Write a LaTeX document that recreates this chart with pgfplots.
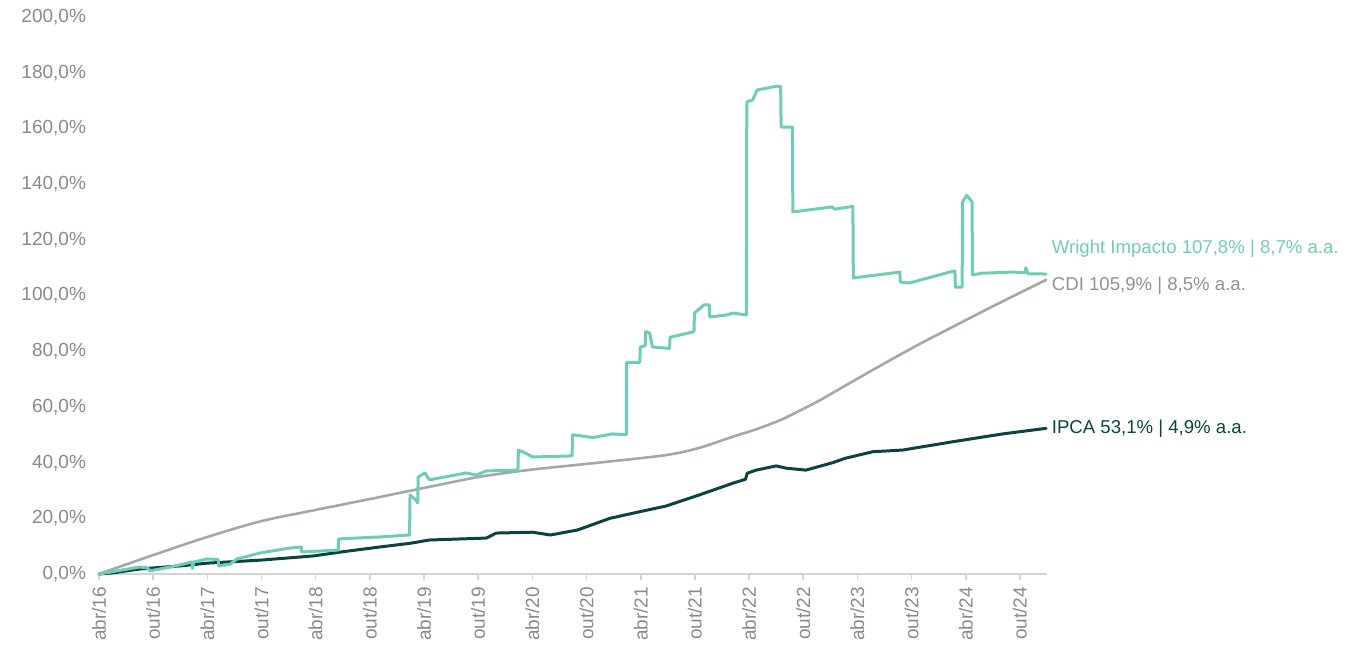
\documentclass[border=0pt]{standalone}
\usepackage{fontspec}
\setmainfont{Liberation Sans}
\usepackage{pgfplots}
\pgfplotsset{compat=1.18}
\definecolor{wteal}{HTML}{6FCDB7}
\definecolor{ipca}{HTML}{0B4342}
\definecolor{cdi}{HTML}{A2AAA7}
\definecolor{cdilab}{HTML}{8E9491}
\definecolor{tickc}{HTML}{8A8A8A}
\definecolor{axisg}{HTML}{D4D4D4}
\begin{document}
\begin{tikzpicture}[x=1pt,y=1pt]
\path[use as bounding box] (-49.5,-47) rectangle (634,287);
\begin{axis}[
  at={(0,0)}, anchor=south west,
  scale only axis, width=474pt, height=278.5pt,
  xmin=0, xmax=105, ymin=0, ymax=200,
  clip=false,
  axis x line*=bottom, axis y line*=left,
  x axis line style={draw=axisg, line width=1pt, -},
  y axis line style={draw=none},
  xtick={0,6,...,102},
  xticklabels={abr/16,out/16,abr/17,out/17,abr/18,out/18,abr/19,out/19,abr/20,out/20,abr/21,out/21,abr/22,out/22,abr/23,out/23,abr/24,out/24},
  xtick align=outside,
  major x tick style={draw=axisg, line width=0.8pt},
  major tick length=3pt,
  ytick={0,20,...,200},
  yticklabels={{0,0\%},{20,0\%},{40,0\%},{60,0\%},{80,0\%},{100,0\%},{120,0\%},{140,0\%},{160,0\%},{180,0\%},{200,0\%}},
  major y tick style={draw=none},
  xticklabel style={rotate=90, anchor=east, font=\fontsize{9.5}{11}\selectfont, text=tickc},
  yticklabel style={font=\fontsize{9.5}{11}\selectfont, text=tickc, xshift=-3pt},
  every axis plot/.append style={line join=round, line cap=round},
]
% CDI
\addplot[cdi, line width=1.3pt, smooth] coordinates {
(0,0) (6,6.8) (12,13.3) (18,19.0) (24,23.0) (30,26.9) (36,30.9) (42,34.8) (48,37.5) (55.4,40.0) (62.8,42.7) (66.5,45.3) (70.2,49.3) (73,52.2) (75.7,55.6) (78,59.3) (79.8,62.3) (83.5,69.2) (87.2,76.0) (90.9,82.6) (94.6,88.8) (98.2,94.8) (101.9,100.8) (104.9,105.6)
};
% IPCA
\addplot[ipca, line width=1.5pt] coordinates {
(0,0) (1.5,0.4) (4.5,1.8) (9,2.9) (12,3.9) (18,5.0) (23.8,6.5) (26.8,7.9) (31.1,9.7) (34.4,11.0) (36.6,12.2) (42.9,12.9) (44,14.7) (48,15.0) (50,14.0) (53,15.8) (56.6,20.0) (59.1,21.8) (62.8,24.4) (66.5,28.4) (70.2,32.6) (71.6,34.0) (71.8,36.2) (72.8,37.3) (75.0,38.8) (76.1,38.0) (78.3,37.3) (81.3,40.0) (82.6,41.5) (85.7,43.9) (89.0,44.5) (94.6,47.5) (100.1,50.3) (104.9,52.3)
};
% Wright Impacto
\addplot[wteal, line width=1.5pt] coordinates {
(0,0) (4.5,2.5) (5.4,2.2) (5.6,1.1) (7.9,2.5) (10.3,4.3) (10.35,2.0) (10.5,4.3) (12.0,5.4) (13.2,5.2) (13.25,2.9) (14.5,3.5) (15.3,5.4) (17.8,7.5) (21.1,9.3) (22.4,9.7) (22.45,7.9) (26.5,8.6) (26.55,12.6) (31.1,13.3) (34.4,14.0) (34.45,28.4) (35.1,26.5) (35.3,25.5) (35.35,34.8) (36.1,36.3) (36.6,33.8) (40.7,36.3) (41.8,35.5) (42.9,37.0) (46.4,37.3) (46.45,44.5) (47.5,43.0) (48.0,42.0) (52.4,42.4) (52.45,50.0) (54.7,49.0) (56.9,50.3) (58.4,50.0) (58.45,76.0) (59.9,76.0) (59.95,81.5) (60.5,82.0) (60.55,87.0) (61.0,86.5) (61.3,81.5) (63.2,81.0) (63.25,85.0) (65.9,87.0) (65.95,93.7) (67.0,96.6) (67.6,96.6) (67.65,92.3) (69.5,93.0) (70.2,93.7) (71.7,93.0) (71.75,169.5) (72.4,170.2) (72.9,173.8) (75.1,175.2) (75.5,175.0) (75.55,160.5) (76.8,160.5) (76.85,130.0) (81.2,131.8) (81.5,131.0) (83.5,132.0) (83.55,106.3) (88.7,108.4) (88.75,104.8) (89.8,104.5) (94.2,108.4) (94.8,108.8) (94.85,103.0) (95.6,103.0) (95.65,133.6) (96.1,136.0) (96.7,133.6) (96.75,107.4) (97.8,108.0) (101.2,108.4) (102.6,108.2) (102.65,110.0) (102.9,107.8) (104.9,107.7)
};
\node[anchor=west, inner sep=0pt, text=wteal, font=\fontsize{9.3}{11}\selectfont] at (axis cs:105.5,116.8) {Wright Impacto 107,8\% | 8,7\% a.a.};
\node[anchor=west, inner sep=0pt, text=cdilab, font=\fontsize{9.3}{11}\selectfont] at (axis cs:105.5,103.6) {CDI 105,9\% | 8,5\% a.a.};
\node[anchor=west, inner sep=0pt, text=ipca, font=\fontsize{9.3}{11}\selectfont] at (axis cs:105.5,52.1) {IPCA 53,1\% | 4,9\% a.a.};
\end{axis}
\end{tikzpicture}
\end{document}
